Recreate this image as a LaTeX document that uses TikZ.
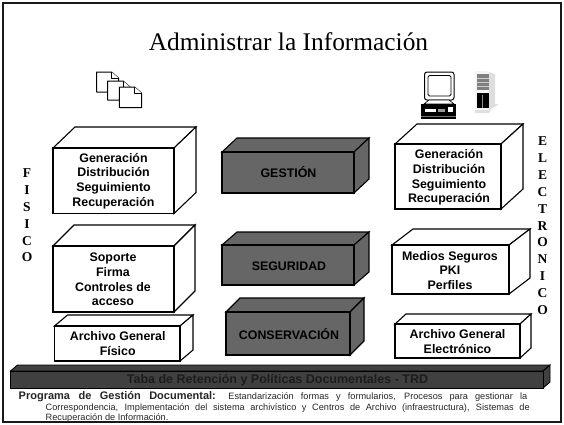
\documentclass[tikz,border=0pt]{standalone}
\usepackage{fontspec}
\setmainfont{Liberation Serif}
\setsansfont{Liberation Sans}
\definecolor{slab}{HTML}{666666}
\definecolor{band}{HTML}{404040}
\definecolor{bandtext}{HTML}{1C1C1C}
\tikzset{
  x=1pt, y=-1pt,
  frameline/.style={draw=black!90, line width=1.9pt},
  light/.style={draw=black, line width=1.1pt, fill=white, line join=miter},
  dark/.style={draw=black, line width=1.1pt, fill=slab, line join=miter},
  barstyle/.style={draw=black, line width=.9pt, fill=band, line join=miter},
  boxtext/.style={font=\sffamily\bfseries\fontsize{12.4}{14.7}\selectfont, align=center, inner sep=0pt, text=black},
  sidetext/.style={font=\rmfamily\bfseries\fontsize{13.5}{14}\selectfont, inner sep=0pt, anchor=base},
  page/.style={draw=black, line width=1pt, fill=white, line join=round},
  finetext/.style={font=\sffamily\fontsize{9.2}{10}\selectfont, inner sep=0pt, anchor=base west, text=black!85},
}
% A box drawn from its front face: #1 style, #2..#5 left, top, right, bottom, #6 depth x, #7 depth y
\newcommand{\solidbox}[7]{%
  \draw[#1] (#2,#3) -- ++(#6,-#7) -- ++(#4-#2,0) -- ++(-#6,#7) -- cycle;
  \draw[#1] (#4,#3) -- ++(#6,-#7) -- ++(0,#5-#3) -- ++(-#6,#7) -- cycle;
  \draw[#1] (#2,#3) rectangle (#4,#5);
}
% A sheet with a folded corner: #1 left, #2 top, #3 right, #4 bottom
\newcommand{\sheet}[4]{%
  \draw[page] (#1,#2) -- (#3-7,#2) -- (#3,#2+6) -- (#3,#4) -- (#1,#4) -- cycle;
  \draw[page] (#3-7,#2) -- (#3-7,#2+6) -- (#3,#2+6);
}
\begin{document}
\begin{tikzpicture}
\useasboundingbox (0,0) rectangle (564,424);
\fill[white] (0,0) rectangle (564,424);

\node[font=\rmfamily\fontsize{25.4}{28}\selectfont, inner sep=0pt, anchor=base] (title) at (288.5,50) {Administrar la Información};

% stacked sheets
\sheet{96.7}{72}{118.5}{92}
\sheet{107.7}{81}{130}{100}
\sheet{119.3}{87}{141.5}{107.5}

% desktop computer
\draw[black, line width=1pt, fill=white, rounded corners=2.5pt] (424.5,72) rectangle (454,100);
\draw[black, line width=.9pt, fill=white, rounded corners=1.5pt] (428,75.5) rectangle (451,96);
\draw[black, line width=.7pt, fill=white] (429,100) -- (449,100) -- (454,104) -- (424,104) -- cycle;
\fill[black] (421,104) rectangle (456,118.5);
\fill[white] (425,108.5) rectangle (436,112);
\fill[black!40] (438,109) rectangle (445,111.5);
\fill[white] (448,107) rectangle (453,112);
\fill[black!55] (421,115.5) rectangle (456,116.5);

% tower server
\fill[black!4] (475,71) rectangle (489,110);
\fill[black!13] (489,72) -- (495,74) -- (495,106) -- (489,110) -- cycle;
\fill[black!12] (475,110) -- (489,110) -- (499,104.5) -- (495,104) -- (489,113) -- (475,113) -- cycle;
\fill[black!50] (476.5,74) rectangle (489,90);
\foreach \ypos in {78,82,86} \fill[black!20] (476.5,\ypos) rectangle (489,\ypos+1);
\fill[black] (476.5,93) rectangle (489,108);
\fill[black!45] (482,95) rectangle (483,108);

% left column
\solidbox{light}{53}{148}{174}{213.5}{22}{21}
\node[boxtext] (genfis) at (113.5,181) {Generación\\Distribución\\Seguimiento\\Recuperación};
\solidbox{light}{53}{246}{174}{312}{21}{21}
\node[boxtext] (sopfis) at (113,279.5) {Soporte\\Firma\\Controles de\\acceso};
\solidbox{light}{54.5}{326}{180}{361}{13}{11}
\node[boxtext] (arcfis) at (117.7,343.5) {Archivo General\\Físico};

% centre column
\solidbox{dark}{222}{152}{354}{193}{15}{14}
\node[boxtext] (gestion) at (288.5,172) {GESTIÓN};
\solidbox{dark}{222}{245}{354}{285}{15}{13}
\node[boxtext] (seguridad) at (289,266) {SEGURIDAD};
\solidbox{dark}{226}{312}{350}{355}{14}{14}
\node[boxtext] (conserv) at (289,334) {CONSERVACIÓN};

% right column
\solidbox{light}{395}{144}{501}{209}{22}{20}
\node[boxtext] (genele) at (449,177.5) {Generación\\Distribución\\Seguimiento\\Recuperación};
\solidbox{light}{392}{245}{509}{294}{21}{16}
\node[boxtext] (medele) at (450,270.5) {Medios Seguros\\PKI\\Perfiles};
\solidbox{light}{395}{324}{520}{358}{11}{10}
\node[boxtext] (arcele) at (457.5,341.5) {Archivo General\\Electrónico};

% vertical side labels
\foreach \ch [count=\n] in {F,I,S,I,C,O}
  \node[sidetext] (fis\n) at (27,160.5+\n*16.9) {\ch};
\foreach \ch [count=\n] in {E,L,E,C,T,R,O,N,I,C,O}
  \node[sidetext] (ele\n) at (542.5,129+\n*16.85) {\ch};

% retention band
\solidbox{barstyle}{10.5}{371}{543}{388}{7}{6}
\node[font=\sffamily\bfseries\fontsize{12.5}{14}\selectfont, inner sep=0pt, text=bandtext] (trd) at (277.5,380) {Taba de Retención y Políticas Documentales - TRD};

% programme description
\node[finetext] (prog1) at (18.5,399.5)
  {\makebox[508.5pt][s]{{\bfseries\fontsize{11}{12}\selectfont Programa de Gestión Documental:} Estandarización formas y formularios, Procesos para gestionar la}};
\node[finetext] (prog2) at (45.5,410.7)
  {\makebox[484pt][s]{Correspondencia, Implementación del sistema archivístico y Centros de Archivo (infraestructura), Sistemas de}};
\node[finetext] (prog3) at (45.5,420)
  {Recuperación de Información.};

\draw[frameline] (3.3,3.3) rectangle (561,421.7);
\end{tikzpicture}
\end{document}
